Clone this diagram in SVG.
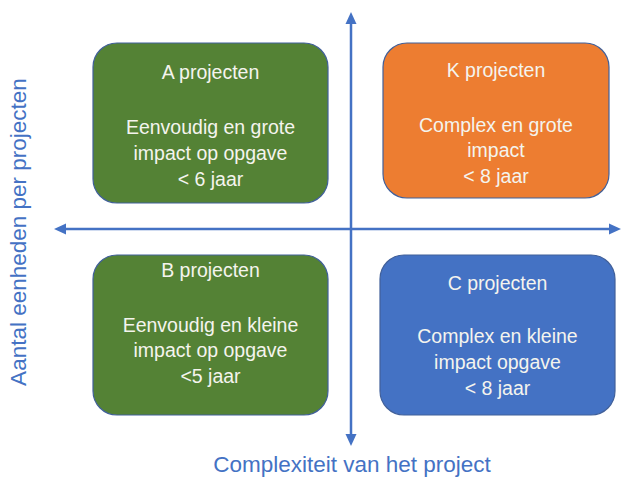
<svg xmlns="http://www.w3.org/2000/svg" width="621" height="477" viewBox="0 0 621 477">
  <style>
    .box { stroke: #41609a; stroke-width: 1.2; }
    .green { fill: #548235; }
    .orange { fill: #ed7d31; }
    .blue { fill: #4472c4; }
    .t { font-family: "Liberation Sans", Arial, sans-serif; font-size: 19.5px; fill: #f4f4ee; text-anchor: middle; }
    .axis { stroke: #4472c4; stroke-width: 2.5; fill: none; }
    .head { fill: #4472c4; }
    .lbl { font-family: "Liberation Sans", Arial, sans-serif; font-size: 22.5px; fill: #4472c4; text-anchor: middle; }
  </style>
  <rect width="621" height="477" fill="#ffffff"/>

  <g id="connectors">
    <line class="axis" x1="351" y1="436" x2="351" y2="22"/>
    <line class="axis" x1="64" y1="229" x2="612" y2="229"/>
    <polygon class="head" points="351,12 345.5,24 356.5,24"/>
    <polygon class="head" points="351,446 345.5,434 356.5,434"/>
    <polygon class="head" points="54,229 66,223.5 66,234.5"/>
    <polygon class="head" points="621,229 609,223.5 609,234.5"/>
  </g>

  <g id="node-a">
    <rect class="box green" x="93" y="43" width="235" height="160" rx="24"/>
    <text class="t" x="210.5" y="79">A projecten</text>
    <text class="t" x="210.5" y="134">Eenvoudig en grote</text>
    <text class="t" x="210.5" y="160">impact op opgave</text>
    <text class="t" x="210.5" y="186">&lt; 6 jaar</text>
  </g>

  <g id="node-k">
    <rect class="box orange" x="383" y="43" width="226" height="155" rx="24"/>
    <text class="t" x="496" y="77">K projecten</text>
    <text class="t" x="496" y="132">Complex en grote</text>
    <text class="t" x="496" y="157">impact</text>
    <text class="t" x="496" y="183">&lt; 8 jaar</text>
  </g>

  <g id="node-b">
    <rect class="box green" x="93" y="255" width="235" height="160" rx="24"/>
    <text class="t" x="210.5" y="277">B projecten</text>
    <text class="t" x="210.5" y="332">Eenvoudig en kleine</text>
    <text class="t" x="210.5" y="357">impact op opgave</text>
    <text class="t" x="210.5" y="383">&lt;5 jaar</text>
  </g>

  <g id="node-c">
    <rect class="box blue" x="380" y="255" width="235" height="160" rx="24"/>
    <text class="t" x="497.5" y="290">C projecten</text>
    <text class="t" x="497.5" y="343">Complex en kleine</text>
    <text class="t" x="497.5" y="369">impact opgave</text>
    <text class="t" x="497.5" y="395">&lt; 8 jaar</text>
  </g>

  <text class="lbl" x="352" y="472">Complexiteit van het project</text>
  <text class="lbl" transform="translate(26,232) rotate(-90)">Aantal eenheden per projecten</text>
</svg>
